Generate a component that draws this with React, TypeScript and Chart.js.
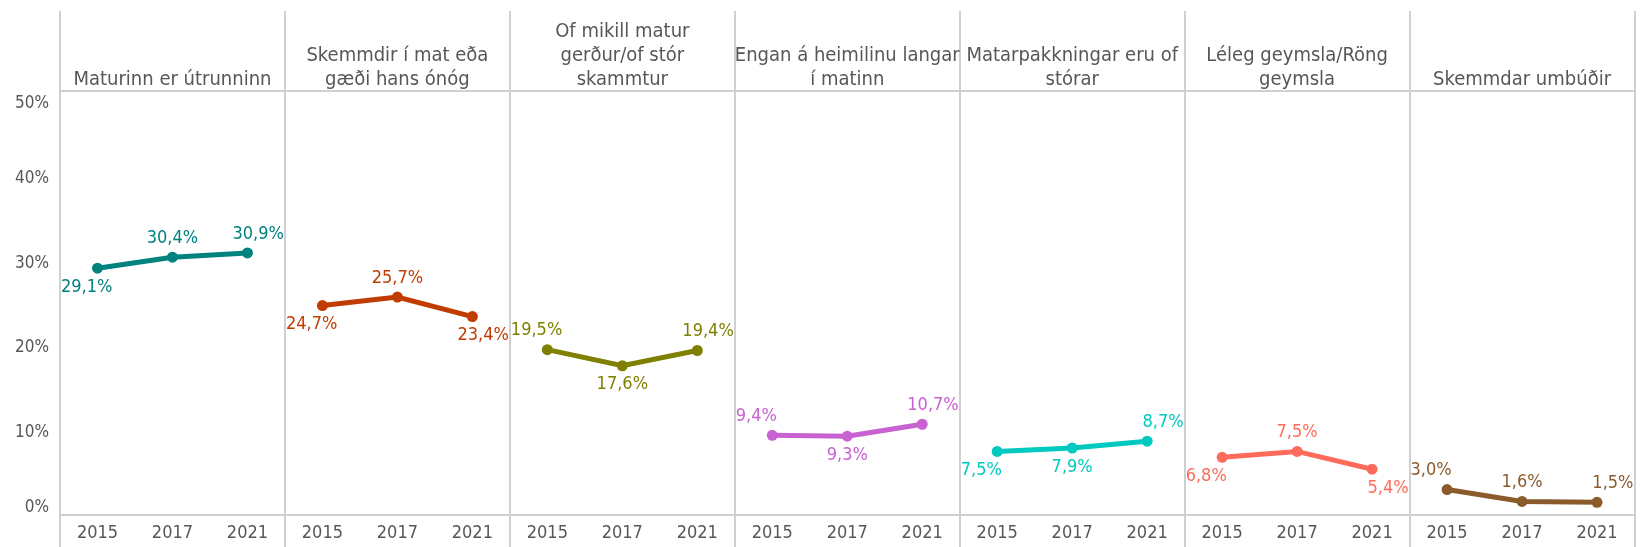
import React, { useEffect, useRef } from "react";
import { Chart, registerables } from "chart.js";

Chart.register(...registerables);

// ---- data ----
const years = ["2015", "2017", "2021"];
const categories: string[][] = [
  ["Maturinn er útrunninn"],
  ["Skemmdir í mat eða", "gæði hans ónóg"],
  ["Of mikill matur", "gerður/of stór", "skammtur"],
  ["Engan á heimilinu langar", "í matinn"],
  ["Matarpakkningar eru of", "stórar"],
  ["Léleg geymsla/Röng", "geymsla"],
  ["Skemmdar umbúðir"],
];
const utrunninn = [29.1, 30.4, 30.9];
const skemmdir = [24.7, 25.7, 23.4];
const ofMikill = [19.5, 17.6, 19.4];
const enganLangar = [9.4, 9.3, 10.7];
const pakkningar = [7.5, 7.9, 8.7];
const geymsla = [6.8, 7.5, 5.4];
const umbudir = [3.0, 1.6, 1.5];
const seriesValues = [utrunninn, skemmdir, ofMikill, enganLangar, pakkningar, geymsla, umbudir];
const yTicks = [0, 10, 20, 30, 40, 50];

// ---- style ----
const colors = ["#00827e", "#c03c00", "#808000", "#c862d0", "#00c9c0", "#fd6b5b", "#8b5a2b"];
const labelSides = [
  ["down", "up", "up"],
  ["down", "up", "down"],
  ["up", "down", "up"],
  ["up", "down", "up"],
  ["down", "down", "up"],
  ["down", "up", "down"],
  ["up", "up", "up"],
];
const FONT = '"DejaVu Sans Condensed", "DejaVu Sans", sans-serif';
const TEXT = "#575757";
const LINE = "#d0d0d0";

function boundary(chart: any, k: number) {
  const x = chart.scales.x;
  const step = x.getPixelForValue(1) - x.getPixelForValue(0);
  if (k >= categories.length) return Math.min(chart.chartArea.right, chart.width - 1);
  return x.getPixelForValue(k * years.length) - step / 2;
}

const panelPlugin = {
  id: "panels",
  beforeDatasetsDraw(chart: any) {
    const { ctx, chartArea, scales } = chart;
    ctx.save();
    ctx.strokeStyle = LINE;
    ctx.lineWidth = 2;
    for (let k = 0; k <= categories.length; k++) {
      const px = Math.round(boundary(chart, k));
      ctx.beginPath();
      ctx.moveTo(px, 11);
      ctx.lineTo(px, chart.height);
      ctx.stroke();
    }
    ctx.beginPath();
    ctx.moveTo(chartArea.left, Math.round(chartArea.top));
    ctx.lineTo(chartArea.right, Math.round(chartArea.top));
    ctx.moveTo(chartArea.left, Math.round(chartArea.bottom));
    ctx.lineTo(chartArea.right, Math.round(chartArea.bottom));
    ctx.stroke();

    // titles
    ctx.fillStyle = TEXT;
    ctx.font = `20px ${FONT}`;
    ctx.textAlign = "center";
    ctx.textBaseline = "middle";
    categories.forEach((lines, k) => {
      const cx = (boundary(chart, k) + boundary(chart, k + 1)) / 2;
      const n = lines.length;
      lines.forEach((line, j) => {
        ctx.fillText(line, cx, chartArea.top - 11 - (n - 1 - j) * 24);
      });
    });

    // y labels
    const y = scales.y;
    ctx.font = `17px ${FONT}`;
    ctx.textAlign = "right";
    const maxV = Math.max(...yTicks);
    const minV = Math.min(...yTicks);
    yTicks.forEach((v) => {
      let py = y.getPixelForValue(v) + 2.5;
      if (v === maxV) py += 10;
      if (v === minV) py -= 10;
      ctx.fillText(`${v}%`, chartArea.left - 11, py);
    });
    ctx.restore();
  },
  afterDatasetsDraw(chart: any) {
    const { ctx } = chart;
    ctx.save();
    ctx.font = `18px ${FONT}`;
    ctx.textBaseline = "middle";
    seriesValues.forEach((vals, i) => {
      const meta = chart.getDatasetMeta(i);
      const left = boundary(chart, i);
      const right = boundary(chart, i + 1);
      ctx.fillStyle = colors[i];
      vals.forEach((v, j) => {
        const el = meta.data[i * years.length + j];
        if (!el) return;
        const text = v.toFixed(1).replace(".", ",") + "%";
        let tx = el.x;
        if (j === 0) {
          ctx.textAlign = "left";
          tx = left + 1;
        } else if (j === vals.length - 1) {
          ctx.textAlign = "right";
          tx = right - 1;
        } else {
          ctx.textAlign = "center";
        }
        const ty = el.y + (labelSides[i][j] === "up" ? -19 : 19);
        ctx.fillText(text, tx, ty);
      });
    });
    ctx.restore();
  },
};

export default function App() {
  const ref = useRef<HTMLCanvasElement | null>(null);
  useEffect(() => {
    document.body.style.margin = "0";
    const labels = categories.flatMap(() => years);
    const datasets = seriesValues.map((vals, i) => {
      const data: (number | null)[] = labels.map(() => null);
      vals.forEach((v, j) => (data[i * years.length + j] = v));
      return {
        label: categories[i].join(" "),
        data,
        borderColor: colors[i],
        backgroundColor: colors[i],
        borderWidth: 5,
        pointRadius: 5.5,
        pointHoverRadius: 5.5,
        pointBorderWidth: 0,
        spanGaps: false,
        tension: 0,
      };
    });
    const chart = new Chart(ref.current as HTMLCanvasElement, {
      type: "line",
      data: { labels, datasets },
      options: {
        animation: false,
        responsive: false,
        layout: { padding: { top: 91, left: 0, right: 0, bottom: 0 } },
        plugins: { legend: { display: false }, tooltip: { enabled: false } },
        scales: {
          x: {
            type: "category",
            offset: true,
            grid: { display: false, drawTicks: false },
            border: { display: false },
            ticks: {
              autoSkip: false,
              maxRotation: 0,
              color: TEXT,
              padding: 8,
              font: { family: FONT, size: 18 },
            },
            afterFit: (s: any) => {
              s.height = 32;
            },
          },
          y: {
            min: 0,
            max: 50,
            grid: { display: false, drawTicks: false },
            border: { display: false },
            ticks: { display: false, stepSize: 10 },
            afterFit: (s: any) => {
              s.width = 60;
            },
          },
        },
      },
      plugins: [panelPlugin],
    });
    return () => chart.destroy();
  }, []);
  return (
    <div style={{ position: "absolute", left: 0, top: 0, width: 1640, height: 547 }}>
      <canvas ref={ref} width={1640} height={547} />
    </div>
  );
}
